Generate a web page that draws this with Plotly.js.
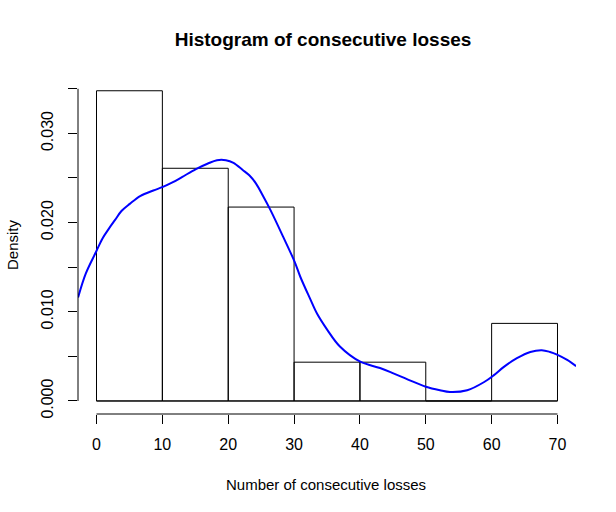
<!DOCTYPE html>
<html>
<head>
<meta charset="utf-8">
<script src="https://cdn.plot.ly/plotly-3.0.1.min.js"></script>
<style>
  body { margin: 0; background: #fff; }
</style>
</head>
<body>
<div id="histplot"></div>
<script>
// histogram bins (density scale, breaks every 10)
var binMids = [5, 15, 25, 35, 45, 55, 65];
var binDensity = [0.03478, 0.02609, 0.02174, 0.00435, 0.00435, 0, 0.00870];
var breaks = [0, 10, 20, 30, 40, 50, 60, 70];

// kernel density curve
var densX = [-2.8, -1.62, -0.08, 0.89, 1.86, 2.82, 3.79, 5.05, 6.69, 8.63, 10.08, 11.53, 12.98, 15.1, 16.84, 18.29,
    19.65, 20.8, 22.2, 23.2, 24.2, 25.35, 26.42, 28.35, 30.09, 30.96, 32.41, 33.48, 35.02, 36.96, 40.05, 43.05,
    45.08, 47.3, 50.01, 52.14, 53.68, 56.29, 58.81, 60.35, 61.81, 63.84, 65.87, 67.61, 68.86, 69.93, 71.47, 72.83];
var densY = [0.0116, 0.0143, 0.0167, 0.0182, 0.0193, 0.0203, 0.0213, 0.0221, 0.0230, 0.0236, 0.0240, 0.0245, 0.0251, 0.0260, 0.0266, 0.0270,
    0.0270, 0.0267, 0.0259, 0.0253, 0.0244, 0.0229, 0.0214, 0.0184, 0.0156, 0.0139, 0.0115, 0.0098, 0.0080, 0.0061, 0.0044, 0.0037,
    0.0031, 0.0024, 0.0016, 0.0012, 0.0010, 0.0012, 0.0021, 0.0029, 0.0038, 0.0048, 0.0055, 0.0057, 0.0055, 0.0052, 0.0046, 0.0039];

var xTicks = [0, 10, 20, 30, 40, 50, 60, 70];
var yTicks = [0, 0.005, 0.01, 0.015, 0.02, 0.025, 0.03, 0.035];
var yTickText = ["0.000", "", "0.010", "", "0.020", "", "0.030", ""];

var font = "Liberation Sans, Arial, sans-serif";

var data = [{
    type: 'bar',
    x: binMids,
    y: binDensity,
    width: 10,
    marker: { color: 'rgba(0,0,0,0)', line: { color: 'black', width: 1 } },
    hoverinfo: 'x+y'
}, {
    type: 'scatter',
    mode: 'lines',
    x: densX,
    y: densY,
    line: { color: '#0000ff', width: 2, shape: 'spline', smoothing: 1 }
}];

var layout = {
    width: 616,
    height: 512,
    margin: { l: 78, r: 40, t: 78, b: 98 },
    paper_bgcolor: 'white',
    plot_bgcolor: 'white',
    showlegend: false,
    font: { family: font, color: 'black', size: 16 },
    title: {
        text: '<b>Histogram of consecutive losses</b>',
        font: { size: 19, family: font, color: 'black' },
        xref: 'paper', x: 0.492, xanchor: 'center',
        yref: 'container', y: 0.923, yanchor: 'middle'
    },
    xaxis: {
        range: [-2.81, 72.81],
        tickvals: xTicks,
        ticktext: xTicks.map(String),
        ticks: 'outside', ticklen: 9, tickwidth: 1, tickcolor: 'black',
        showline: false, showgrid: false, zeroline: false,
        ticklabelstandoff: 7,
        tickfont: { size: 16 }
    },
    yaxis: {
        range: [-0.00146, 0.03621],
        tickvals: yTicks,
        ticktext: yTickText,
        tickangle: -90,
        ticks: 'outside', ticklen: 9, tickwidth: 1, tickcolor: 'black',
        showline: false, showgrid: false, zeroline: false,
        ticklabelstandoff: 9,
        tickfont: { size: 16 }
    },
    bargap: 0,
    shapes: [
        // axis lines span only the tick range, as in base R
        { type: 'line', xref: 'x', yref: 'paper', x0: xTicks[0], x1: xTicks[xTicks.length - 1], y0: 0, y1: 0,
          line: { color: 'black', width: 1 } },
        { type: 'line', xref: 'paper', yref: 'y', x0: 0, x1: 0, y0: yTicks[0], y1: yTicks[yTicks.length - 1],
          line: { color: 'black', width: 1 } },
        // baseline of the bars (covers the empty bin)
        { type: 'line', xref: 'x', yref: 'y', x0: breaks[0], x1: breaks[breaks.length - 1], y0: 0, y1: 0,
          line: { color: 'black', width: 1 } }
    ],
    annotations: [
        { text: 'Number of consecutive losses', xref: 'paper', yref: 'paper', x: 0.498, y: -0.211,
          xanchor: 'center', yanchor: 'middle', showarrow: false, font: { size: 15 } },
        { text: 'Density', xref: 'paper', yref: 'paper', x: -0.1305, y: 0.503, textangle: -90,
          xanchor: 'center', yanchor: 'middle', showarrow: false, font: { size: 15 } }
    ]
};

Plotly.newPlot('histplot', data, layout, { displayModeBar: false, staticPlot: true });
</script>
</body>
</html>
